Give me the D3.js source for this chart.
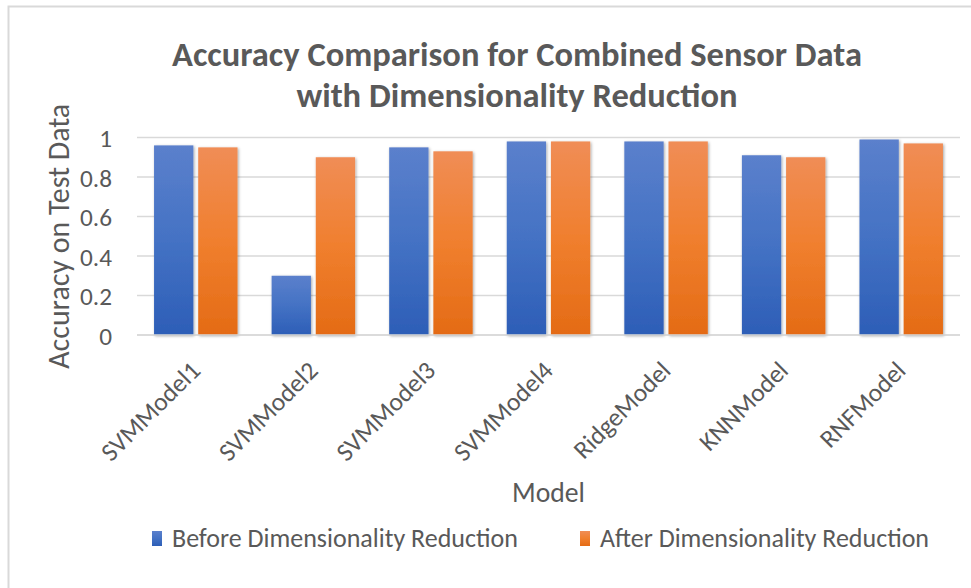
<!DOCTYPE html>
<html>
<head>
<meta charset="utf-8">
<script src="https://cdn.jsdelivr.net/npm/d3@7"></script>
<style>
  html, body { margin: 0; padding: 0; background: #fff; }
  svg { display: block; }
  text { font-family: Carlito, Lato, "Open Sans", sans-serif; fill: #595959; }
</style>
</head>
<body>
<svg id="chart" width="971" height="588"></svg>
<script>
// Chart data
const models = ["SVMModel1", "SVMModel2", "SVMModel3", "SVMModel4", "RidgeModel", "KNNModel", "RNFModel"];
const seriesNames = ["Before Dimensionality Reduction", "After Dimensionality Reduction"];
const beforeValues = [0.96, 0.30, 0.95, 0.98, 0.98, 0.91, 0.99];
const afterValues  = [0.95, 0.90, 0.93, 0.98, 0.98, 0.90, 0.97];
const yTicks = [0, 0.2, 0.4, 0.6, 0.8, 1];
const titleLines = ["Accuracy Comparison for Combined Sensor Data", "with Dimensionality Reduction"];
const xTitle = "Model";
const yTitle = "Accuracy on Test Data";

const svg = d3.select("#chart");
const W = 971, H = 588;

// scale a text element's font so that its rendered width equals `target`
function fitSize(sel, target) {
  const node = sel.node();
  const base = parseFloat(sel.attr("font-size"));
  const w = node.getComputedTextLength();
  const s = base * target / w;
  sel.attr("font-size", s);
  return s;
}

// outer chart-area frame
svg.append("rect").attr("x", 8.5).attr("y", 6.5).attr("width", W).attr("height", H)
  .attr("fill", "#fff").attr("stroke", "#d9d9d9").attr("stroke-width", 2);

const defs = svg.append("defs");
const grads = [
  { id: "gBlue", top: "#5b80cc", mid: "#4472c4", bot: "#2d5eb7" },
  { id: "gOrange", top: "#f08d56", mid: "#f07f2e", bot: "#e46b15" }
];
grads.forEach(g => {
  const lg = defs.append("linearGradient").attr("id", g.id)
    .attr("x1", 0).attr("y1", 0).attr("x2", 0).attr("y2", 1);
  lg.append("stop").attr("offset", "0%").attr("stop-color", g.top);
  lg.append("stop").attr("offset", "50%").attr("stop-color", g.mid);
  lg.append("stop").attr("offset", "100%").attr("stop-color", g.bot);
});
const f = defs.append("filter").attr("id", "shadow")
  .attr("x", "-20%").attr("y", "-10%").attr("width", "140%").attr("height", "120%");
f.append("feDropShadow").attr("dx", 1).attr("dy", 1).attr("stdDeviation", 1.6)
  .attr("flood-color", "#000").attr("flood-opacity", 0.35);

const plot = { left: 137, right: 960, top: 137.5, bottom: 335 };

const x = d3.scaleBand().domain(models).range([plot.left, plot.right]);
const y = d3.scaleLinear().domain([0, 1]).range([plot.bottom, plot.top]);
const groupInner = 0.145; // empty space on either side of the pair within a category
const xs = d3.scaleBand().domain([0, 1])
  .range([x.bandwidth() * groupInner, x.bandwidth() * (1 - groupInner)])
  .paddingInner(0.11);

// gridlines
svg.append("g").selectAll("line").data(yTicks).join("line")
  .attr("x1", plot.left).attr("x2", plot.right)
  .attr("y1", d => y(d)).attr("y2", d => y(d))
  .attr("stroke", "#d9d9d9").attr("stroke-width", 1.6);

// y-axis tick labels
const yAxis = d3.axisLeft(y).tickValues(yTicks).tickSize(0).tickPadding(0)
  .tickFormat(d => d3.format("~g")(d));
const ya = svg.append("g").attr("transform", `translate(${plot.left - 25},0)`).call(yAxis);
ya.select(".domain").remove();
const yLabels = ya.selectAll("text").attr("font-size", 20).attr("fill", "#595959")
  .style("font-family", null).attr("font-family", null)
  .attr("dy", "0.36em");
const probeY = yLabels.filter(d => d === 0.8);
const tickSize = fitSize(probeY, 32);
yLabels.attr("font-size", tickSize);

// bars
const series = [beforeValues, afterValues];
const g = svg.append("g").attr("filter", "url(#shadow)");
series.forEach((vals, si) => {
  g.append("g").selectAll("rect").data(models).join("rect")
    .attr("x", (m) => x(m) + xs(si))
    .attr("width", xs.bandwidth())
    .attr("y", (m, i) => y(vals[i]))
    .attr("height", (m, i) => y(0) - y(vals[i]))
    .attr("fill", si === 0 ? "url(#gBlue)" : "url(#gOrange)");
});

// baseline
svg.append("line").attr("x1", plot.left).attr("x2", plot.right)
  .attr("y1", y(0)).attr("y2", y(0)).attr("stroke", "#d9d9d9").attr("stroke-width", 1.6);

// x-axis category labels (rotated)
const xAxis = d3.axisBottom(x).tickSize(0).tickPadding(0);
const xa = svg.append("g").attr("transform", `translate(0,${plot.bottom})`).call(xAxis);
xa.select(".domain").remove();
const xLabels = xa.selectAll("text")
  .attr("font-size", 20).attr("fill", "#595959")
  .attr("font-family", null)
  .attr("text-anchor", "end")
  .attr("dy", null).attr("y", 0)
  .attr("transform", "translate(6,37) rotate(-45)");
const xSize = fitSize(xLabels.filter(d => d === "SVMModel1"), 128);
xLabels.attr("font-size", xSize);

// title
const titles = svg.append("g").selectAll("text").data(titleLines).join("text")
  .attr("x", 517).attr("y", (d, i) => 66 + i * 40.5)
  .attr("text-anchor", "middle").attr("font-size", 30).attr("font-weight", "bold")
  .text(d => d);
const titleSize = fitSize(titles.filter((d, i) => i === 0), 690);
titles.attr("font-size", titleSize);

// axis titles
const yt = svg.append("text")
  .attr("transform", `translate(69,${(plot.top + plot.bottom) / 2}) rotate(-90)`)
  .attr("text-anchor", "middle").attr("font-size", 22).text(yTitle);
fitSize(yt, 265);
const xt = svg.append("text").attr("x", (plot.left + plot.right) / 2).attr("y", 502)
  .attr("text-anchor", "middle").attr("font-size", 22).text(xTitle);
fitSize(xt, 73);

// legend
const legendX = [152, 580];
const legendW = [346, 330];
const lg = svg.append("g").selectAll("g").data(seriesNames).join("g")
  .attr("transform", (d, i) => `translate(${legendX[i]},538)`);
lg.append("rect").attr("x", 0).attr("y", -7).attr("width", 10).attr("height", 15)
  .attr("fill", (d, i) => i === 0 ? "url(#gBlue)" : "url(#gOrange)");
const legendText = lg.append("text").attr("x", 20).attr("y", 0).attr("dy", "0.36em").attr("font-size", 22)
  .text(d => d);
const legSize = fitSize(d3.select(legendText.nodes()[0]), legendW[0]);
legendText.attr("font-size", legSize);
</script>
</body>
</html>
